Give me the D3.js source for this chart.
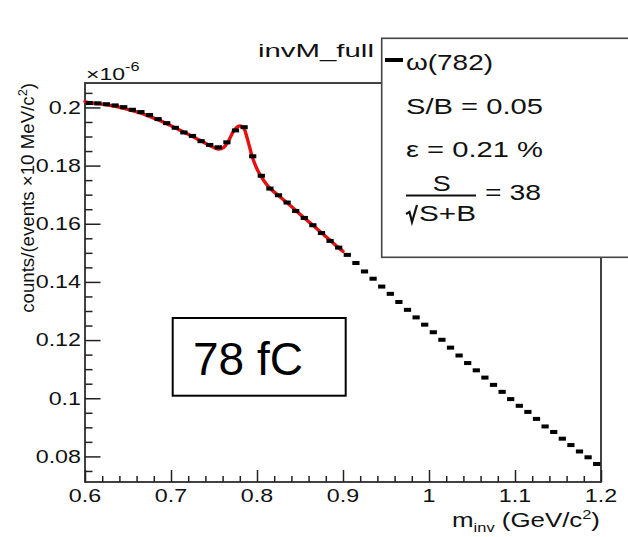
<!DOCTYPE html>
<html><head><meta charset="utf-8">
<script src="https://cdn.jsdelivr.net/npm/d3@7/dist/d3.min.js"></script>
<style>html,body{margin:0;padding:0;background:#fff;}svg{display:block;}</style>
</head><body>
<div id="chart"></div>
<script>
// ---------------- data (counts/(events x 10 MeV/c^2), units of 1e-6) ----------------
const massCenters = [0.605,0.615,0.625,0.635,0.645,0.655,0.665,0.675,0.685,0.695,
  0.705,0.715,0.725,0.735,0.745,0.755,0.765,0.775,0.785,0.795,
  0.805,0.815,0.825,0.835,0.845,0.855,0.865,0.875,0.885,0.895,
  0.905,0.915,0.925,0.935,0.945,0.955,0.965,0.975,0.985,0.995,
  1.005,1.015,1.025,1.035,1.045,1.055,1.065,1.075,1.085,1.095,
  1.105,1.115,1.125,1.135,1.145,1.155,1.165,1.175,1.185,1.195];
const counts = [0.2015,0.2014,0.2011,0.2007,0.2001,0.1992,0.1984,0.1974,0.1960,0.1946,
  0.1930,0.1914,0.1902,0.1884,0.1871,0.1863,0.1880,0.1921,0.1932,0.1832,
  0.1765,0.1721,0.1698,0.1673,0.1644,0.1620,0.1595,0.1568,0.1541,0.1518,
  0.1493,0.1465,0.1436,0.1411,0.1384,0.1359,0.1331,0.1304,0.1278,0.1253,
  0.1227,0.1201,0.1174,0.1147,0.1121,0.1096,0.1071,0.1046,0.1022,0.0997,
  0.0974,0.0953,0.0929,0.0903,0.0884,0.0861,0.0839,0.0817,0.0797,0.0774];
const binWidth = 0.01;
// fit curve (red)
const fitMass = [0.600,0.605,0.615,0.625,0.635,0.645,0.655,0.665,0.675,0.685,0.695,
  0.705,0.715,0.725,0.735,0.745,0.755,0.761,0.767,0.773,0.779,0.784,0.789,0.795,
  0.801,0.808,0.815,0.825,0.835,0.845,0.855,0.865,0.875,0.885,0.895,0.900];
const fitVals = [0.2020,0.2016,0.2013,0.2009,0.2004,0.1997,0.1989,0.1980,0.1969,0.1957,0.1944,
  0.1930,0.1915,0.1900,0.1885,0.1869,0.1857,0.1862,0.1885,0.1920,0.1936,0.1931,0.1890,0.1825,
  0.1782,0.1748,0.1722,0.1697,0.1672,0.1646,0.1620,0.1595,0.1569,0.1543,0.1517,0.1505];
const xMajor = [0.6,0.7,0.8,0.9,1.0,1.1,1.2];
const xMajorLabels = ["0.6","0.7","0.8","0.9","1","1.1","1.2"];
const yMajor = [0.08,0.10,0.12,0.14,0.16,0.18,0.20];
const yMajorLabels = ["0.08","0.1","0.12","0.14","0.16","0.18","0.2"];
const legendLines = ["S/B = 0.05", "\u03b5 = 0.21 %"];
const legendName = "\u03c9(782)";
const signifValue = "= 38";

// ---------------- layout ----------------
const W = 628, H = 537;
const FONT = "'Liberation Sans', Arial, Helvetica, sans-serif";
const svg = d3.select("#chart").append("svg").attr("width", W).attr("height", H)
  .style("font-family", FONT);

const x = d3.scaleLinear().domain([0.6, 1.2]).range([85, 601]);
const y = d3.scaleLinear().domain([0.0712, 0.2084]).range([482, 83]);

// helper: stretched text fitted to a target width
function fitText(parent, px, py, build, size, anchor, targetW, rot) {
  const g = parent.append("g");
  const t = g.append("text").attr("font-size", size).attr("text-anchor", anchor).attr("fill", "#111");
  build(t);
  const w = t.node().getBBox().width;
  const s = targetW ? targetW / w : 1;
  g.attr("transform", `translate(${px},${py})` + (rot ? ` rotate(${rot})` : "") + ` scale(${s},1)`);
  return g;
}

// frame
svg.append("rect").attr("x", x(0.6)).attr("y", y(0.2084))
  .attr("width", x(1.2) - x(0.6)).attr("height", y(0.0712) - y(0.2084))
  .attr("fill", "none").attr("stroke", "#222").attr("stroke-width", 1.7);

// x axis ticks
const xMinor = d3.range(0.62, 1.2, 0.02).filter(v => Math.abs(Math.round(v*10) - v*10) > 1e-6);
const xAxisG = svg.append("g").attr("transform", `translate(0,${y(0.0712)})`);
xAxisG.call(d3.axisBottom(x).tickValues(xMajor).tickSize(-12).tickFormat(""));
xAxisG.append("g").call(d3.axisBottom(x).tickValues(xMinor).tickSize(-6).tickFormat(""));
xAxisG.selectAll("path.domain").remove();
xAxisG.selectAll("line").attr("stroke", "#222").attr("stroke-width", 1.5);

// y axis ticks
const yMinor = d3.range(0.075, 0.2075, 0.005).filter(v => Math.abs(Math.round(v*50) - v*50) > 1e-6);
const yAxisG = svg.append("g").attr("transform", `translate(${x(0.6)},0)`);
yAxisG.call(d3.axisLeft(y).tickValues(yMajor).tickSize(-15.5).tickFormat(""));
yAxisG.append("g").call(d3.axisLeft(y).tickValues(yMinor).tickSize(-7.5).tickFormat(""));
yAxisG.selectAll("path.domain").remove();
yAxisG.selectAll("line").attr("stroke", "#222").attr("stroke-width", 1.5);

// tick labels
const SX = 1.33;
xMajor.forEach((v, i) => {
  svg.append("g").attr("transform", `translate(${x(v)},502) scale(${SX},1)`)
    .append("text").attr("text-anchor", "middle").attr("font-size", 17.5).attr("fill", "#111")
    .text(xMajorLabels[i]);
});
yMajor.forEach((v, i) => {
  svg.append("g").attr("transform", `translate(81,${y(v) + 6.3}) scale(${SX},1)`)
    .append("text").attr("text-anchor", "end").attr("font-size", 17.5).attr("fill", "#111")
    .text(yMajorLabels[i]);
});

// exponent label x10^-6
fitText(svg, 86, 80, t => {
  t.append("tspan").text("\u00d710");
  t.append("tspan").attr("font-size", 12).attr("dy", -9).text("-6");
}, 17, "start", 54);

// axis titles
fitText(svg, 600, 527, t => {
  t.append("tspan").text("m");
  t.append("tspan").attr("font-size", 13).attr("dy", 5).text("inv");
  t.append("tspan").attr("dy", -5).text(" (GeV/c");
  t.append("tspan").attr("font-size", 13).attr("dy", -8).text("2");
  t.append("tspan").attr("dy", 8).text(")");
}, 20.5, "end", 148);

fitText(svg, 34, 83, t => {
  t.append("tspan").text("counts/(events \u00d710 MeV/c");
  t.append("tspan").attr("font-size", 12).attr("dy", -7).text("2");
  t.append("tspan").attr("dy", 7).text(")");
}, 17.5, "end", 230, -90);

// title
fitText(svg, 258, 57, t => t.text("invM_full"), 19, "start", 116);

// fit curve
const line = d3.line().x(d => x(d[0])).y(d => y(d[1])).curve(d3.curveCatmullRom.alpha(0.5));
svg.append("path").datum(fitMass.map((m, i) => [m, fitVals[i]]))
  .attr("d", line).attr("fill", "none").attr("stroke", "#e8100f").attr("stroke-width", 3.4)
  .attr("stroke-linejoin", "round").attr("stroke-linecap", "round");

// data markers
const bw = x(0.6 + binWidth) - x(0.6);
svg.append("g").selectAll("rect").data(massCenters.map((m, i) => [m, counts[i]])).join("rect")
  .attr("x", d => x(d[0]) - bw * 0.42).attr("y", d => y(d[1]) - 2)
  .attr("width", bw * 0.84).attr("height", 4).attr("fill", "#000");

// legend box
const leg = svg.append("g");
leg.append("rect").attr("x", 381.7).attr("y", 38.3).attr("width", 260).attr("height", 219)
  .attr("fill", "#fff").attr("stroke", "#444").attr("stroke-width", 1.6);
leg.append("line").attr("x1", 385).attr("x2", 403).attr("y1", 60).attr("y2", 60)
  .attr("stroke", "#000").attr("stroke-width", 4);
fitText(leg, 406, 70, t => t.text(legendName), 22, "start", 87);
fitText(leg, 406, 114, t => t.text(legendLines[0]), 22, "start", 137);
fitText(leg, 406, 157, t => t.text(legendLines[1]), 22, "start", 137);
fitText(leg, 441.7, 190.5, t => t.text("S"), 22, "middle", 18);
leg.append("line").attr("x1", 406).attr("x2", 476).attr("y1", 195.5).attr("y2", 195.5)
  .attr("stroke", "#111").attr("stroke-width", 2.2);
leg.append("path").attr("d", "M406,214 L409.5,212 L412,222 L417,205")
  .attr("fill", "none").attr("stroke", "#111").attr("stroke-width", 2.2).attr("stroke-linejoin", "miter");
fitText(leg, 419, 221, t => t.text("S+B"), 22, "start", 57);
fitText(leg, 485, 200, t => t.text(signifValue), 22, "start", 56);

// annotation box "78 fC"
svg.append("rect").attr("x", 172.7).attr("y", 318).attr("width", 173).attr("height", 77.7)
  .attr("fill", "#fff").attr("stroke", "#000").attr("stroke-width", 2);
svg.append("text").attr("x", 193).attr("y", 375).attr("font-size", 46)
  .attr("fill", "#000").text("78 fC");
</script>
</body></html>
